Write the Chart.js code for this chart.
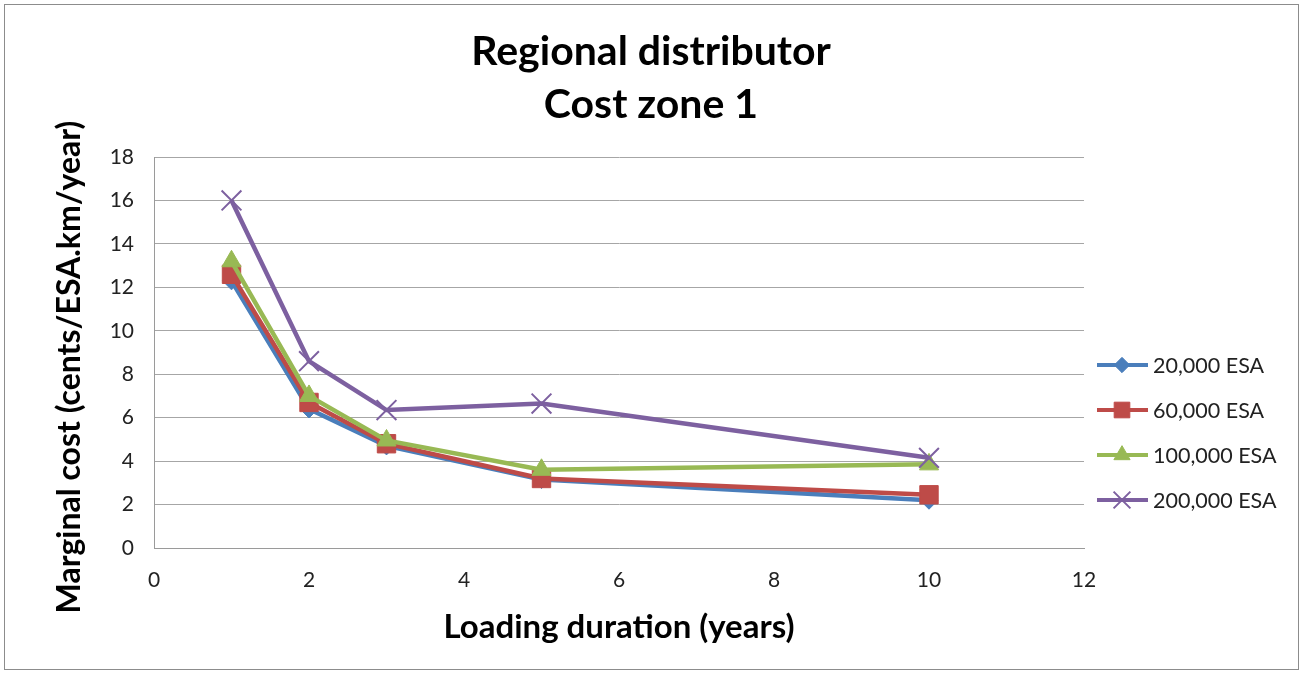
<!DOCTYPE html>
<html>
<head>
<meta charset="utf-8">
<script src="https://cdn.jsdelivr.net/npm/chart.js@4/dist/chart.umd.min.js"></script>
<style>
  html, body { margin: 0; padding: 0; background: #fff; }
  #wrap { position: relative; width: 1303px; height: 673px; }
  #frame { position: absolute; left: 4px; top: 4px; width: 1293px; height: 664px; border: 1px solid #8c8c8c; pointer-events: none; }
  canvas { display: block; }
</style>
</head>
<body>
<div id="wrap">
  <canvas id="chart" width="1303" height="673"></canvas>
  <div id="frame"></div>
</div>
<script>
const years = [1, 2, 3, 5, 10];
const esa20k = [12.3, 6.4, 4.7, 3.15, 2.2];
const esa60k = [12.6, 6.7, 4.8, 3.2, 2.45];
const esa100k = [13.2, 7.0, 4.95, 3.6, 3.85];
const esa200k = [16.0, 8.6, 6.35, 6.65, 4.15];
const seriesNames = ["20,000 ESA", "60,000 ESA", "100,000 ESA", "200,000 ESA"];
const titleLines = ["Regional distributor", "Cost zone 1"];
const yTitle = "Marginal cost (cents/ESA.km/year)";

const FONT = "Lato, 'Open Sans', sans-serif";

function toPoints(values) {
  return values.map((v, i) => ({ x: years[i], y: v }));
}

const titleAndLegend = {
  id: "titleAndLegend",
  afterDraw(chart) {
    const ctx = chart.ctx;
    ctx.save();
    ctx.fillStyle = "#000";
    ctx.font = "bold 41px " + FONT;
    ctx.textAlign = "center";
    ctx.textBaseline = "middle";
    ctx.fillText(titleLines[0], 651, 52);
    ctx.fillText(titleLines[1], 651, 105);

    // y axis title, rotated
    ctx.save();
    ctx.translate(70, 367);
    ctx.rotate(-Math.PI / 2);
    ctx.font = "bold 32px " + FONT;
    ctx.fillText(yTitle, 0, 0);
    ctx.restore();

    // legend: line with marker, then label
    ctx.font = "21.5px " + FONT;
    ctx.textAlign = "left";
    chart.data.datasets.forEach((ds, i) => {
      const y = 365 + i * 45;
      ctx.strokeStyle = ds.borderColor;
      ctx.lineWidth = 4;
      ctx.beginPath();
      ctx.moveTo(1097, y);
      ctx.lineTo(1148, y);
      ctx.stroke();
      ctx.fillStyle = ds.pointBackgroundColor;
      ctx.strokeStyle = ds.pointBorderColor;
      ctx.lineWidth = ds.pointBorderWidth;
      Chart.helpers.drawPoint(ctx, {
        pointStyle: ds.pointStyle,
        radius: ds.pointRadius * 0.85,
        borderWidth: ds.pointBorderWidth
      }, 1122, y);
      ctx.fillStyle = "#222";
      ctx.fillText(ds.label, 1153, y + 1);
    });
    ctx.restore();
  }
};

const colors = ["#4A7EBB", "#BE4B48", "#98B954", "#7D60A0"];
const styles = ["rectRot", "rect", "triangle", "crossRot"];
const radii = [9, 13, 11, 14];
const allValues = [esa20k, esa60k, esa100k, esa200k];

const datasets = allValues.map((vals, i) => ({
  label: seriesNames[i],
  data: toPoints(vals),
  borderColor: colors[i],
  backgroundColor: colors[i],
  pointBackgroundColor: colors[i],
  pointBorderColor: colors[i],
  pointStyle: styles[i],
  pointRadius: radii[i],
  pointBorderWidth: i === 3 ? 2 : 1,
  borderWidth: 4.5,
  tension: 0,
  order: 4 - i
}));

new Chart(document.getElementById("chart"), {
  type: "line",
  data: { datasets: datasets },
  plugins: [titleAndLegend],
  options: {
    responsive: false,
    animation: false,
    layout: { padding: { top: 157, right: 219, left: 0, bottom: 0 } },
    plugins: {
      legend: { display: false },
      title: { display: false },
      tooltip: { enabled: false }
    },
    scales: {
      x: {
        type: "linear",
        min: 0,
        max: 12,
        ticks: { stepSize: 2, color: "#222", font: { size: 21, family: FONT }, padding: 20 },
        grid: { display: false, drawTicks: false },
        border: { color: "#9a9a9a", width: 1 },
        title: {
          display: true,
          text: "Loading duration (years)",
          color: "#000",
          font: { size: 33, weight: "bold", family: FONT },
          padding: { top: 0, bottom: 26 }
        },
        afterFit(scale) { scale.height = 125; }
      },
      y: {
        min: 0,
        max: 18,
        ticks: { stepSize: 2, color: "#222", font: { size: 21, family: FONT }, padding: 20 },
        grid: { color: "#a6a6a6", lineWidth: 1, drawTicks: false },
        border: { color: "#9a9a9a", width: 1 },
        title: { display: false },
        afterFit(scale) { scale.width = 154; }
      }
    }
  }
});
</script>
</body>
</html>
